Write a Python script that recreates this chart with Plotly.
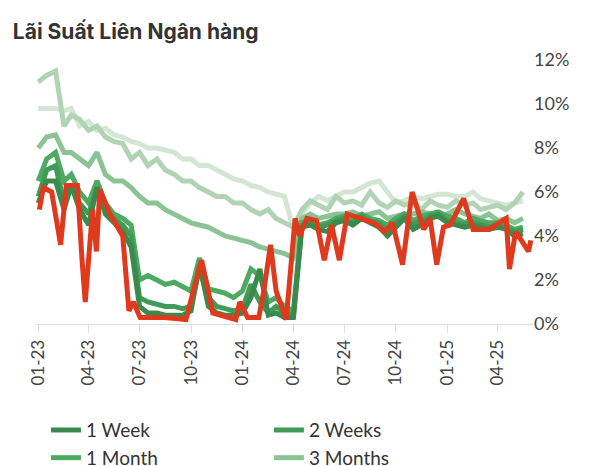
import pandas as pd
import plotly.graph_objects as go

dates = [pd.Timestamp(y, m, d) for y in (2023, 2024, 2025) for m in range(1, 13) for d in (1, 16)
         if not (y == 2025 and m > 5)]

w1 = [5.5,6.5, 6.5,5.2, 6.3,5.2, 4.5,6.2, 5.0,4.6, 4.2,3.5, 0.8,0.5, 0.5,0.4, 0.4,0.4, 0.6,2.7, 0.8,0.5, 0.4,0.4,
      0.5,1.2, 2.5,0.4, 0.5,0.3, 0.3,4.4, 4.5,4.3, 4.2,4.6, 4.7,4.5, 4.8,4.6, 4.4,4.0, 4.4,4.8, 4.3,4.5, 4.8,4.9,
      4.6,4.5, 4.4,4.5, 4.4,4.3, 4.4,4.3, 4.0,4.1]
w2 = [5.8,7.0, 7.2,5.5, 6.2,5.5, 5.0,6.2, 5.2,4.8, 4.5,4.0, 1.2,1.0, 0.9,0.8, 0.8,0.7, 0.8,2.5, 1.2,0.8, 0.7,0.6,
      0.7,1.8, 1.0,0.5, 0.8,0.5, 0.4,4.5, 4.6,4.4, 4.5,4.7, 4.8,4.6, 4.9,4.7, 4.6,4.3, 4.6,4.9, 4.5,4.7, 4.9,5.0,
      4.7,4.6, 4.5,4.6, 4.5,4.4, 4.5,4.4, 4.2,4.3]
m1 = [6.5,7.5, 7.8,6.5, 6.8,6.0, 5.5,6.5, 5.5,5.0, 4.8,4.5, 2.0,2.2, 2.0,1.8, 1.9,1.7, 1.5,3.0, 1.6,1.5, 1.4,1.2,
      1.5,2.5, 2.2,1.0, 1.2,0.8, 0.6,4.6, 4.7,4.5, 4.6,4.8, 4.9,4.8, 5.0,4.8, 4.7,4.5, 4.8,5.0, 4.7,4.9, 5.0,5.1,
      4.9,4.8, 4.6,4.8, 4.7,4.6, 4.6,4.5, 4.3,4.4]
m3 = [8.0,8.5, 8.6,7.8, 7.8,7.5, 7.2,7.8, 6.8,6.5, 6.5,6.2, 5.8,5.5, 5.5,5.2, 5.0,4.8, 4.6,4.5, 4.4,4.2, 4.0,3.9,
      3.8,3.7, 3.5,3.4, 3.3,3.2, 3.0,4.8, 5.0,4.8, 4.9,5.0, 5.0,5.1, 4.9,5.0, 5.1,4.8, 4.9,5.0, 5.0,5.1, 5.0,4.9,
      5.0,5.2, 5.0,4.9, 4.8,5.0, 4.7,4.8, 4.6,4.8]
m6 = [11.0,11.3, 11.5,9.0, 9.5,9.3, 8.8,9.0, 8.5,8.3, 8.2,7.5, 7.8,7.2, 7.5,7.0, 6.8,6.5, 6.5,6.2, 6.0,5.8, 5.8,5.5,
      5.5,5.2, 5.0,5.2, 4.8,4.6, 4.4,5.2, 5.6,5.4, 5.2,5.8, 5.5,5.6, 5.4,6.0, 5.5,5.3, 5.6,5.4, 5.5,5.2, 5.6,5.4,
      5.3,5.6, 5.4,5.5, 5.2,5.3, 5.4,5.2, 5.5,6.0]
m9 = [9.8,9.8, 9.8,9.7, 9.8,9.0, 9.2,8.8, 8.9,8.6, 8.5,8.3, 8.2,8.0, 8.0,7.9, 7.8,7.5, 7.5,7.2, 7.2,7.0, 6.8,6.6,
      6.5,6.3, 6.2,6.0, 5.9,5.8, 4.3,5.0, 5.5,5.8, 5.6,5.8, 6.0,6.0, 6.2,6.4, 6.5,6.0, 5.5,5.6, 5.8,5.7, 5.8,5.9,
      5.9,5.8, 5.8,6.0, 5.7,5.6, 5.5,5.4, 5.5,5.6]

on_dates = ["2023-01-03","2023-01-10","2023-01-25","2023-02-10","2023-02-20","2023-03-12","2023-03-20","2023-03-26",
            "2023-04-08","2023-04-15","2023-04-21","2023-05-09","2023-06-01","2023-06-12","2023-06-20","2023-07-02",
            "2023-08-15","2023-09-22","2023-10-05","2023-10-20","2023-11-09","2023-12-20","2023-12-27","2024-01-10",
            "2024-01-30","2024-02-08","2024-02-20","2024-03-01","2024-03-19","2024-03-29","2024-04-04","2024-04-12",
            "2024-04-25","2024-05-12","2024-05-26","2024-06-08","2024-06-22","2024-07-06","2024-08-01","2024-08-22",
            "2024-09-12","2024-09-25","2024-10-13","2024-10-22","2024-10-30","2024-11-20","2024-12-01","2024-12-13",
            "2024-12-25","2025-01-06","2025-01-30","2025-02-16","2025-03-16","2025-04-16","2025-04-22","2025-05-03",
            "2025-05-26","2025-05-30"]
overnight = [5.2,6.2,6.0,3.6,6.3,6.3,3.0,1.0, 5.2,3.3,6.1,5.0,4.0,0.6,1.0,0.3, 0.3,0.2,1.5,2.9,0.5,0.2,1.0,0.3,
             0.3,1.5,3.6,1.5,0.2,3.0,4.8,4.0, 4.8,4.7,2.9,4.5,2.9,5.0,4.8,4.6, 4.2,4.6,2.7,4.5,6.0,4.3,4.8,2.7,
             4.4,4.5,5.7,4.3,4.3,4.8,2.5,4.2, 3.3,3.8]

series = [("9 Months", m9, "#d3e6d3", 6), ("6 Months", m6, "#b0d4b3", 5), ("3 Months", m3, "#8cc394", 4),
          ("1 Month", m1, "#4eaa62", 3), ("2 Weeks", w2, "#3f9b56", 2), ("1 Week", w1, "#398a4c", 1)]

fig = go.Figure()
for name, vals, col, rank in series:
    fig.add_trace(go.Scatter(x=dates, y=vals, name=name, mode="lines", legendrank=rank,
                             line=dict(color=col, width=5)))
fig.add_trace(go.Scatter(x=pd.to_datetime(on_dates), y=overnight, name="Qua đêm", mode="lines",
                         showlegend=False, line=dict(color="#e03a1e", width=5)))

fig.update_layout(
    width=606, height=466, plot_bgcolor="white", paper_bgcolor="white",
    margin=dict(l=28, r=81, t=52, b=150, autoexpand=False),
    font=dict(family="Lato", color="#444", size=17),
    title=dict(text="<b>Lãi Suất Liên Ngân hàng</b>", x=0.008, y=0.965, xanchor="left",
               font=dict(family="Inter", size=21, color="#333")),
    legend=dict(orientation="h", x=0.02, y=-0.33, xanchor="left", yanchor="top",
                entrywidth=178, entrywidthmode="pixels", tracegroupgap=0,
                font=dict(size=19, color="#333"), traceorder="normal"),
)
fig.update_xaxes(type="date", range=["2022-12-28", "2025-06-03"], tickformat="%m-%y", dtick="M3",
                 tick0="2023-01-01", tickangle=-90, showgrid=False, showline=True, linecolor="#ddd",
                 ticks="outside", tickcolor="#ddd", ticklen=8, tickfont=dict(size=17))
fig.update_yaxes(range=[0, 12], side="right", dtick=2, ticksuffix="%", showgrid=False,
                 zeroline=False, tickfont=dict(size=18))
fig.write_html("out.html")
